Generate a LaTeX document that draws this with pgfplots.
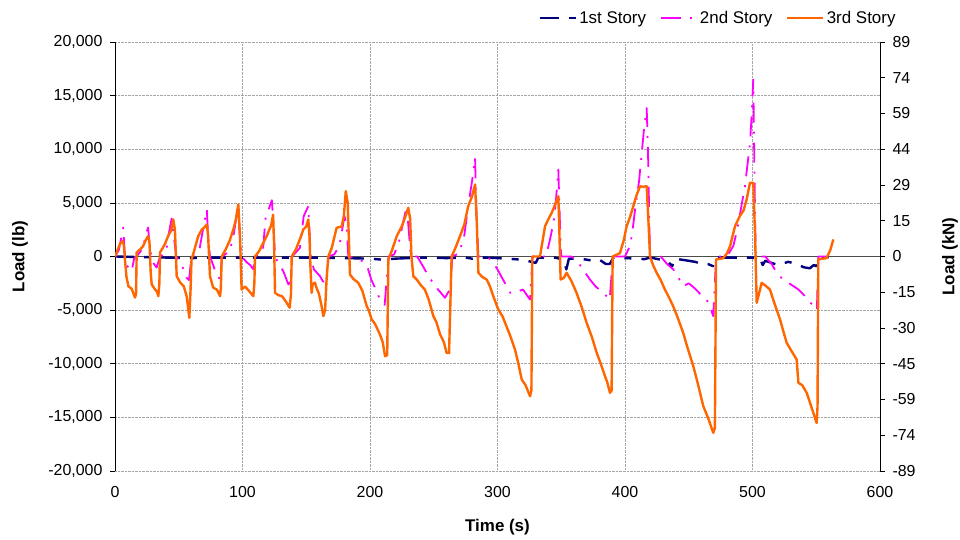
\documentclass[border=0pt]{standalone}
\usepackage{pgfplots}
\pgfplotsset{compat=1.18}
\usepackage{fontspec}
\setmainfont{Liberation Sans}
\definecolor{sOne}{RGB}{0,0,128}
\definecolor{sTwo}{RGB}{255,0,255}
\definecolor{sThree}{RGB}{255,102,0}
\begin{document}
\begin{tikzpicture}[x=1bp,y=1bp]
\useasboundingbox (0,0) rectangle (960,540);
\begin{axis}[
  at={(115bp,69bp)}, anchor=south west,
  width=765bp, height=429bp, scale only axis,
  xmin=0, xmax=600, ymin=-20000, ymax=20000,
  axis x line*=bottom, axis y line*=left,
  x axis line style={draw=none},
  y axis line style={black, line width=0.8pt},
  xtick={0,100,...,600},
  ytick={-20000,-15000,...,20000},
  yticklabels={{-20,000},{-15,000},{-10,000},{-5,000},0,{5,000},{10,000},{15,000},{20,000}},
  scaled y ticks=false,
  /pgf/number format/assume math mode=true,
  tick label style={font=\fontsize{16}{18}\selectfont},
  xticklabel style={yshift=-7bp},
  yticklabel style={xshift=-4bp},
  tick align=outside, major tick length=5bp,
  tick style={black, line width=0.6pt},
  xtick style={draw=none},
  grid=major, grid style={gray!70, densely dotted, line width=0.6pt},
  extra y ticks={0}, extra y tick labels={},
  extra y tick style={grid style={solid, gray!60!black, line width=1.2pt}, major tick length=0pt},
  xlabel={Time (s)}, ylabel={Load (lb)},
  label style={font=\bfseries\fontsize{17}{19}\selectfont},
  xlabel style={at={(rel axis cs:0.5,-0.1305)}, anchor=center},
  ylabel style={at={(rel axis cs:-0.1242,0.5)}, anchor=center, rotate=0},
  legend columns=3,
  legend style={at={(rel axis cs:1.0225,1.056)}, anchor=east, draw=none, fill=none,
    font=\fontsize{17}{19}\selectfont, column sep=1bp, inner sep=0pt,
    nodes={inner sep=1.5bp},
    /tikz/every even column/.append style={column sep=12bp}},
  legend image code/.code={\draw[#1] (0bp,0bp) -- (36bp,0bp);},
  every axis plot/.append style={line join=round},
]
\addplot[sOne, line width=2.4bp, dash pattern=on 19bp off 10bp on 7bp off 10bp] coordinates {
(0,0) (20,-50) (40,-100) (60,-150) (80,-100) (100,-100) (120,-120) (140,-100) (160,-100) (180,-150) (200,-200) (210,-300) (220,-200) (240,-100) (260,-150) (275,-100) (280,-200) (290,-100) (300,-150) (320,-300) (330,-600) (332,-100) (345,-100) (352,-300) (354,-1200) (356,-200) (365,-200) (375,-400) (380,-300) (385,-700) (388,-700) (391,-100) (400,-150) (410,-200) (415,-250) (420,-100) (428,-300) (433,-400) (437,-900) (439,-200) (450,-400) (455,-500) (460,-700) (465,-700) (469,-900) (471,-100) (480,-100) (500,-100) (503,-100) (506,-200) (508,-800) (510,-400) (515,-600) (520,-800) (528,-500) (535,-700) (540,-1000) (545,-1100) (548,-800) (550,-900) (552,-100) (560,-50) (563,0)
};
\addlegendentry{1st Story}
\addplot[sTwo, line width=1.8bp, dash pattern=on 20bp off 9bp on 2bp off 9bp] coordinates {
(0,0) (3,600) (5,1800) (6.5,2700) (7.5,500) (9,-800) (11,-1100) (13,-1370) (15,-200) (17,0) (22,800) (24,2000) (26,2700) (27,1200) (28.5,0) (30,-600) (32.7,-1030) (34,-500) (35.5,0) (40,400) (42,2000) (44.4,3540) (46,2000) (48,0) (51,-500) (53,-1000) (56,-1960) (58,-2200) (60,0) (66,500) (69,2500) (72,4380) (73,2000) (74.5,0) (77,-800) (80,-1840) (82.5,-2100) (84,0) (90,500) (93,2000) (95,3500) (96.7,4600) (98,1500) (99.5,0) (103,-500) (106,-800) (108.5,-1200) (110,0) (116,500) (118,3500) (123,5250) (124,3500) (125.5,0) (129,-800) (132,-1370) (136,-2610) (137.5,-2300) (139,0) (145,800) (148,3760) (151.6,4690) (152.5,2500) (153.5,0) (156,-1200) (160.8,-1840) (163,-2300) (166,-2450) (167.5,0) (172,200) (176,1000) (180,3760) (181.5,3000) (183,0) (190,-200) (195,-500) (198,-1000) (201,-2150) (205,-3200) (209,-4320) (211.5,-4500) (214.5,0) (219,200) (223,1500) (226,3200) (228.8,4690) (230,3000) (232,0) (237,0) (241,-800) (244.4,-1520) (248,-2200) (252,-2900) (255,-3300) (258.8,-3850) (263,-3000) (264.5,0) (270,300) (274,2000) (277,4700) (280,7000) (282.4,9200) (283.5,4000) (285,0) (292,0) (296,-500) (300,-1210) (305,-2300) (310,-3390) (315,-3300) (320,-3080) (323,-3600) (325.5,-4010) (327.5,0) (338,0) (341,1500) (344,3200) (346,5500) (347.7,8110) (349,3000) (350,0) (358,0) (363,-500) (367,-1200) (372.5,-2150) (377,-2800) (382,-3300) (385.6,-3700) (388,-4010) (390.5,0) (400,0) (404,1000) (406,2500) (408,4500) (411,7000) (413,9500) (415,12000) (417,13840) (418,10000) (419.6,0) (428,0) (433,-700) (437.9,-1210) (442,-2000) (445.7,-2770) (450,-2500) (455,-3000) (459,-3500) (464,-4010) (467,-4800) (469.2,-5560) (471.5,0) (480,0) (485,1000) (488,2500) (491,4500) (494,6500) (496,8500) (498,10500) (499.5,13500) (500.6,16500) (501.5,8000) (502.5,0) (510,0) (515,-700) (519,-1520) (524,-2150) (530,-2600) (536,-3080) (542,-3800) (547.7,-4630) (550.5,-5000) (551.6,0) (557,0) (560,0)
};
\addlegendentry{2nd Story}
\addplot[sThree, line width=2.4bp] coordinates {
(0,0) (2,600) (4,1200) (6,1430) (7,1000) (7.8,-300) (9,-1900) (10.5,-2770) (13,-3000) (15.7,-3830) (16.5,-3500) (17,370) (20,700) (22,960) (24,1500) (26,1900) (27,1400) (28,-1500) (28.8,-2610) (31,-3000) (33,-3300) (34,-3700) (34.8,-2500) (35.3,370) (39,1120) (42,2000) (44,2400) (45.7,3450) (47,2500) (48.4,-1840) (51,-2400) (54,-2800) (56.2,-3700) (58.3,-5720) (59.3,-3000) (60,-280) (62,500) (65.3,1900) (68,2500) (70,2700) (72,2980) (73,2000) (74.5,-1840) (77,-2900) (80,-3100) (82.4,-3700) (83,-3000) (83.7,0) (87,700) (90,1500) (92.8,2520) (94.5,3300) (96.7,4850) (98,2000) (99.3,-3080) (102,-2800) (105,-3200) (108.5,-3700) (109.3,-2500) (109.8,0) (113,500) (116,1200) (119,1900) (121,2500) (122.5,2900) (124,3900) (124.8,1000) (125.5,-3390) (128,-3600) (131,-3700) (134,-4200) (137,-4780) (138,-3500) (138.6,0) (142,700) (145,1600) (147.7,2520) (150,2800) (151.6,3450) (152.5,2000) (153.3,-1000) (154.2,-3390) (155,-2600) (156.8,-2430) (158,-2900) (160,-3500) (162,-4600) (163.4,-5560) (164.8,-5000) (166,-2000) (167.3,0) (170,800) (173.8,2670) (177.8,2800) (179.5,3800) (181,6090) (182.5,5000) (184.3,-1680) (187,-2100) (190.8,-2450) (194,-3200) (197.4,-4630) (199,-5000) (201.3,-5870) (204,-6300) (207.8,-7270) (210,-8000) (211.8,-9300) (213.5,-9200) (214.4,-280) (217,500) (221,1900) (225,2830) (228,3800) (230,4540) (231.5,3500) (232.5,0) (234,-1840) (237,-2200) (240,-2700) (243,-3080) (246,-4000) (249.7,-5560) (252,-6100) (255,-7270) (258,-8000) (260,-8980) (262,-9000) (264,0) (267,800) (270.6,1900) (274,3000) (277,4690) (280,5600) (282.4,6710) (283.8,3000) (285,-1520) (288,-1900) (291.5,-2150) (294,-2770) (297,-3800) (300.6,-4940) (304,-5600) (307,-6500) (310,-7400) (313.7,-8670) (316,-9800) (319,-11470) (322,-12000) (325.5,-13030) (326.6,-12500) (327.3,0) (333.3,0) (337.3,2830) (340,3500) (342.5,4070) (345,4800) (347.7,5620) (348.6,2000) (349.5,-2150) (352,-2000) (354.2,-1520) (358,-2300) (362,-3390) (366,-4700) (369.9,-6180) (374,-7500) (377.8,-8980) (381,-10000) (384.3,-11160) (386,-11700) (388.2,-12710) (389.5,-12500) (390.3,0) (396,310) (399,1500) (401.3,2830) (404,3700) (406.5,4690) (409,5700) (411.8,6550) (414,6500) (417,6550) (418.5,3000) (419.6,0) (422,-800) (424.8,-1520) (428,-2200) (431,-3000) (435.3,-4010) (438,-4700) (441,-5600) (445.7,-7140) (449,-8500) (453.6,-10230) (457,-11800) (461.4,-13960) (465,-15000) (469.2,-16440) (470.5,-16000) (471.4,-280) (477,-160) (480,300) (482.4,960) (486.3,2830) (490,3760) (493,4300) (495.4,5310) (498,6870) (500.6,6870) (502,2000) (503.3,-4320) (505,-3500) (507.2,-2460) (510,-2700) (513.7,-3080) (517,-4300) (521.6,-5870) (524,-6900) (526.8,-8050) (530,-8700) (534.6,-9600) (536,-11780) (539,-12000) (542.5,-12710) (545,-13600) (547.7,-14580) (550.3,-15520) (551,-14000) (551.6,-280) (555,-200) (558,-160) (561,600) (563.4,1590)
};
\addlegendentry{3rd Story}
\end{axis}
\begin{axis}[
  at={(115bp,69bp)}, anchor=south west,
  width=765bp, height=429bp, scale only axis,
  xmin=0, xmax=600, ymin=-89, ymax=89,
  axis x line=none, axis y line*=right,
  axis line style={black, line width=0.8pt},
  ytick={-89,-74.1667,-59.3333,-44.5,-29.6667,-14.8333,0,14.8333,29.6667,44.5,59.3333,74.1667,89},
  yticklabels={-89,-74,-59,-45,-30,-15,0,15,29,44,59,74,89},
  tick label style={font=\fontsize{16}{18}\selectfont},
  yticklabel style={xshift=4bp},
  tick align=outside, major tick length=5bp,
  tick style={black, line width=0.6pt},
  ylabel={Load (kN)},
  label style={font=\bfseries\fontsize{17}{19}\selectfont},
  ylabel style={at={(rel axis cs:1.0915,0.5)}, anchor=center, rotate=0},
]
\end{axis}
\end{tikzpicture}
\end{document}
